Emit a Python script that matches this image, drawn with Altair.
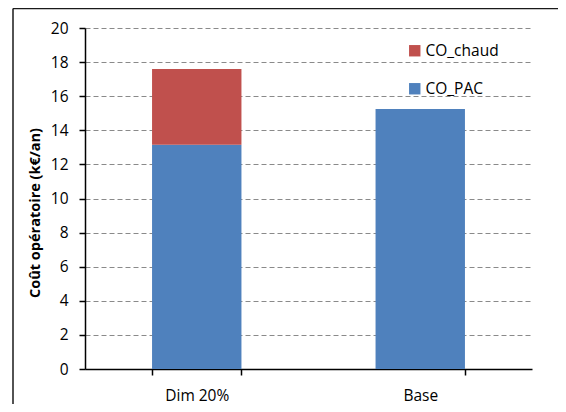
import altair as alt
import pandas as pd

categories = ["Dim 20%", "Base"]
co_pac = [13.15, 15.25]
co_chaud = [4.45, 0.0]
series = ["CO_chaud", "CO_PAC"]
colors = ["#C0504D", "#4F81BD"]
y_ticks = [0, 2, 4, 6, 8, 10, 12, 14, 16, 18, 20]

rows = []
for c, p, h in zip(categories, co_pac, co_chaud):
    rows.append({"cat": c, "serie": "CO_PAC", "val": p, "ord": 0})
    rows.append({"cat": c, "serie": "CO_chaud", "val": h, "ord": 1})
df = pd.DataFrame(rows)

FONT = "Open Sans"
W, H = 447, 341

bars = alt.Chart(df).mark_bar().encode(
    x=alt.X(
        "cat:N",
        sort=categories,
        scale=alt.Scale(paddingInner=0.6, paddingOuter=0.3),
        axis=alt.Axis(
            title=None, labelAngle=0, tickBand="extent", tickSize=6,
            tickColor="#000000", domainColor="#000000", domainWidth=1.5, tickWidth=1.5,
            labelFont=FONT, labelFontSize=15.5, labelColor="#000000", labelPadding=13,
            grid=False,
        ),
    ),
    y=alt.Y(
        "val:Q",
        stack="zero",
        scale=alt.Scale(domain=[0, 20], nice=False),
        axis=alt.Axis(
            values=y_ticks, title="Coût opératoire (k€/an)",
            titleFont=FONT, titleFontSize=14.5, titleFontWeight="bold", titleColor="#000000",
            titleAngle=270, titleX=-50, titleY=184.5, titleAlign="center", titleBaseline="middle",
            labelFont=FONT, labelFontSize=15.5, labelColor="#000000", labelPadding=11,
            tickSize=6, tickColor="#000000", tickWidth=1.5,
            domainColor="#000000", domainWidth=1.5,
            grid=True, gridDash=[5, 3], gridColor="#8a8a8a", gridWidth=1,
        ),
    ),
    color=alt.Color(
        "serie:N",
        scale=alt.Scale(domain=series, range=colors),
        legend=alt.Legend(
            title=None, orient="none", legendX=322, legendY=15,
            symbolType="square", symbolSize=130, symbolStrokeWidth=0,
            labelFont=FONT, labelFontSize=15.5, labelColor="#000000",
            labelOffset=3, rowPadding=21, padding=0,
        ),
    ),
    order=alt.Order("ord:Q", sort="ascending"),
)

one = pd.DataFrame({"a": [0]})
frame_left = alt.Chart(one).mark_rule(color="#1a1a1a", strokeWidth=1.5, clip=False).encode(
    x=alt.value(-72), y=alt.value(-19.5), y2=alt.value(420)
)
frame_top = alt.Chart(one).mark_rule(color="#1a1a1a", strokeWidth=1.5, clip=False).encode(
    x=alt.value(-72), x2=alt.value(480), y=alt.value(-19.5)
)

chart = alt.layer(frame_left, frame_top, bars).properties(
    width=W,
    height=H,
    autosize=alt.AutoSizeParams(type="none"),
    padding={"left": 77, "top": 20, "right": 26, "bottom": 35},
).configure_view(strokeWidth=0)

chart.save("out.html", embed_options={"renderer": "svg", "actions": False})
